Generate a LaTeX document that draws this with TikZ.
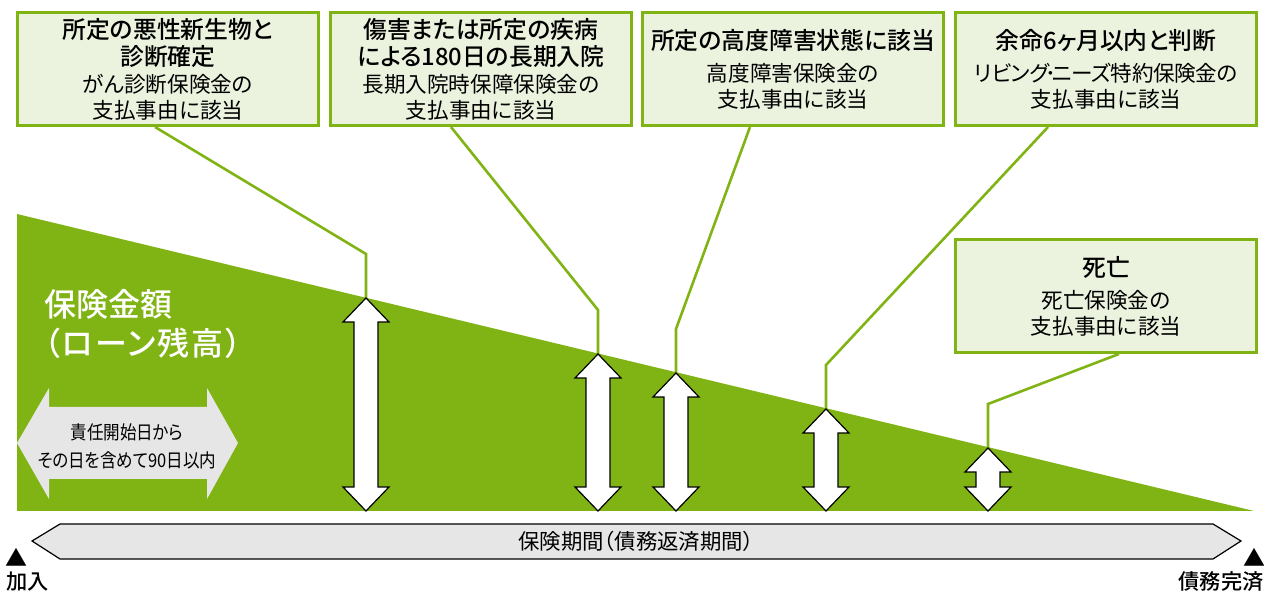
\documentclass[tikz,border=0pt]{standalone}
\usepackage{fontspec}
\setmainfont{Noto Sans CJK JP}[RawFeature={+palt}]
\newfontfamily\midfont{Noto Sans CJK JP Medium}[RawFeature={+palt}]
\newfontfamily\narrowfont{Noto Sans CJK JP}[RawFeature={+palt},FakeStretch=0.88]
\definecolor{leafgreen}{HTML}{80B314}
\definecolor{palegreen}{HTML}{EBF3DF}
\definecolor{palegrey}{HTML}{E6E6E6}
\newcommand{\headfont}{\midfont\fontsize{11.9}{13.5}\selectfont}
\newcommand{\subfont}{\fontsize{10.8}{13}\selectfont}
\tikzset{
  claimbox/.style={draw=leafgreen,fill=palegreen,line width=1.5pt,minimum width=150.5pt,minimum height=56.5pt,inner sep=0pt,align=center,font=\subfont},
  leader/.style={draw=leafgreen,line width=1.3pt},
  spanarrow/.style={draw=black,fill=white,line width=0.6pt},
  bigtext/.style={anchor=west,inner sep=0pt,text=white,font=\midfont\fontsize{16}{18}\selectfont},
  smalltext/.style={inner sep=0pt,font=\narrowfont\fontsize{9.4}{14}\selectfont,align=center},
  endtext/.style={inner sep=0pt,font=\midfont\fontsize{10.6}{12}\selectfont}
}
\begin{document}
\begin{tikzpicture}[x=0.5pt,y=-0.5pt]
  \useasboundingbox (0,0) rectangle (1264,592);
  \fill[leafgreen] (17,214)--(1254,511)--(17,511)--cycle;
  % claim boxes
  \node[claimbox] (boxa) at (168,69) {\headfont 所定の悪性新生物と\\[0.5pt]\headfont 診断確定\\[0.5pt]がん診断保険金の\\支払事由に該当};
  \node[claimbox] (boxb) at (481,69) {\headfont 傷害または所定の疾病\\[0.5pt]\headfont による180日の長期入院\\[0.5pt]長期入院時保障保険金の\\支払事由に該当};
  \node[claimbox] (boxc) at (793,69) {\headfont 所定の高度障害状態に該当\\[3pt]高度障害保険金の\\支払事由に該当};
  \node[claimbox] (boxd) at (1106,69) {\headfont 余命6ヶ月以内と判断\\[3pt]\addfontfeature{LetterSpace=-2}リビング\kern-2pt･\kern-2pt ニーズ特約保険金の\\支払事由に該当};
  \node[claimbox] (boxe) at (1106,296) {\headfont 死亡\\[3pt]死亡保険金の\\支払事由に該当};
  % leaders and amount arrows
  \foreach \n/\x/\y in {a/366/298,b/598/354,c/676/373,d/826/409,e/988/448}{
    \coordinate (tip\n) at (\x,\y);
    \coordinate (bend\n) at (\x,\y-44);
  }
  \draw[leader] ([xshift=-6.5pt]boxa.south)--(benda)--(tipa);
  \draw[leader] ([xshift=-15pt]boxb.south)--(bendb)--(tipb);
  \draw[leader] ([xshift=-21.5pt]boxc.south)--(bendc)--(tipc);
  \draw[leader] ([xshift=-29pt]boxd.south)--(bendd)--(tipd);
  \draw[leader] ([xshift=6.5pt]boxe.south)--(bende)--(tipe);
  \foreach \x/\y in {366/298,598/354,676/373,826/409,988/448}{
    \draw[spanarrow] (\x,\y)--(\x+23,\y+24)--(\x+12,\y+24)--(\x+12,487)--(\x+23,487)--(\x,511)
      --(\x-23,487)--(\x-12,487)--(\x-12,\y+24)--(\x-23,\y+24)--cycle;
  }
  % amount label
  \node[bigtext] (amount) at (44,304) {保険金額};
  \node[bigtext] (balance) at (44,343) {\addfontfeature{LetterSpace=6}（ローン残高）};
  % waiting period
  \fill[palegrey] (17,443)--(49,388)--(49,407)--(207,407)--(207,388)--(238,443)--(207,499)--(207,479)--(49,479)--(49,499)--cycle;
  \node[smalltext] (waiting) at (127,446) {責任開始日から\\その日を含めて90日以内};
  % insurance period
  \draw[fill=palegrey,line width=0.6pt] (32,541)--(60,524)--(1213,524)--(1241,541)--(1213,559)--(60,559)--cycle;
  \node[inner sep=0pt,font=\fontsize{10.7}{12}\selectfont] (period) at (636,541) {保険期間（債務返済期間）};
  \node[inner sep=0pt,font=\fontsize{11}{12}\selectfont] (startmark) at (16,557) {▲};
  \node[inner sep=0pt,font=\fontsize{11}{12}\selectfont] (endmark) at (1254,557) {▲};
  \node[endtext] (startlabel) at (28,582) {加入};
  \node[endtext] (endlabel) at (1221,582) {債務完済};
\end{tikzpicture}
\end{document}
